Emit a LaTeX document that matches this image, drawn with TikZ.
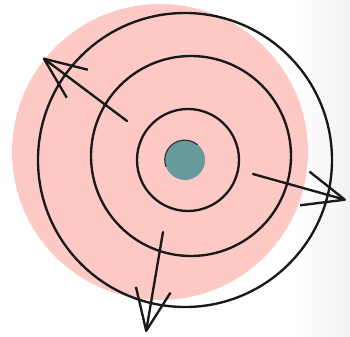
\documentclass[tikz,border=0pt]{standalone}
\usetikzlibrary{arrows.meta}
\definecolor{blush}{HTML}{FCC9C4}
\definecolor{teal}{HTML}{669A9B}
\tikzset{
  ring/.style={draw=black!90, line width=2pt},
  burst/.style={draw=black!90, line width=2pt, line cap=round,
    -{Straight Barb[length=1.25cm, width=1.05cm, line join=round]}},
}
\begin{document}
\begin{tikzpicture}[x=0.03cm, y=-0.03cm]
  \useasboundingbox (0,0) rectangle (350,337);
  % Backdrop
  \shade[left color=white, right color=black!5] (292,0) rectangle (350,337);
  \fill[blush] (160,152) circle (148);
  % Rings
  \draw[ring] (185,160) circle (147);
  \draw[ring] (191,156) circle (100);
  \draw[ring] (188,160) circle (51);
  % Centre dot
  \node[circle, fill=teal, minimum size=40*0.03cm, inner sep=0pt] (nucleus) at (185,160) {};
  \draw[black!80, line width=1pt] (nucleus.200) arc (200:50:20*0.03cm);
  % Arrows out
  \coordinate (ul0) at (127,121);
  \coordinate (ul1) at (43,58);
  \coordinate (rt0) at (253,174);
  \coordinate (rt1) at (346,200);
  \coordinate (dn0) at (163,232);
  \coordinate (dn1) at (146,332);
  \draw[burst] (ul0) -- (ul1);
  \draw[burst] (rt0) -- (rt1);
  \draw[burst] (dn0) -- (dn1);
\end{tikzpicture}
\end{document}
